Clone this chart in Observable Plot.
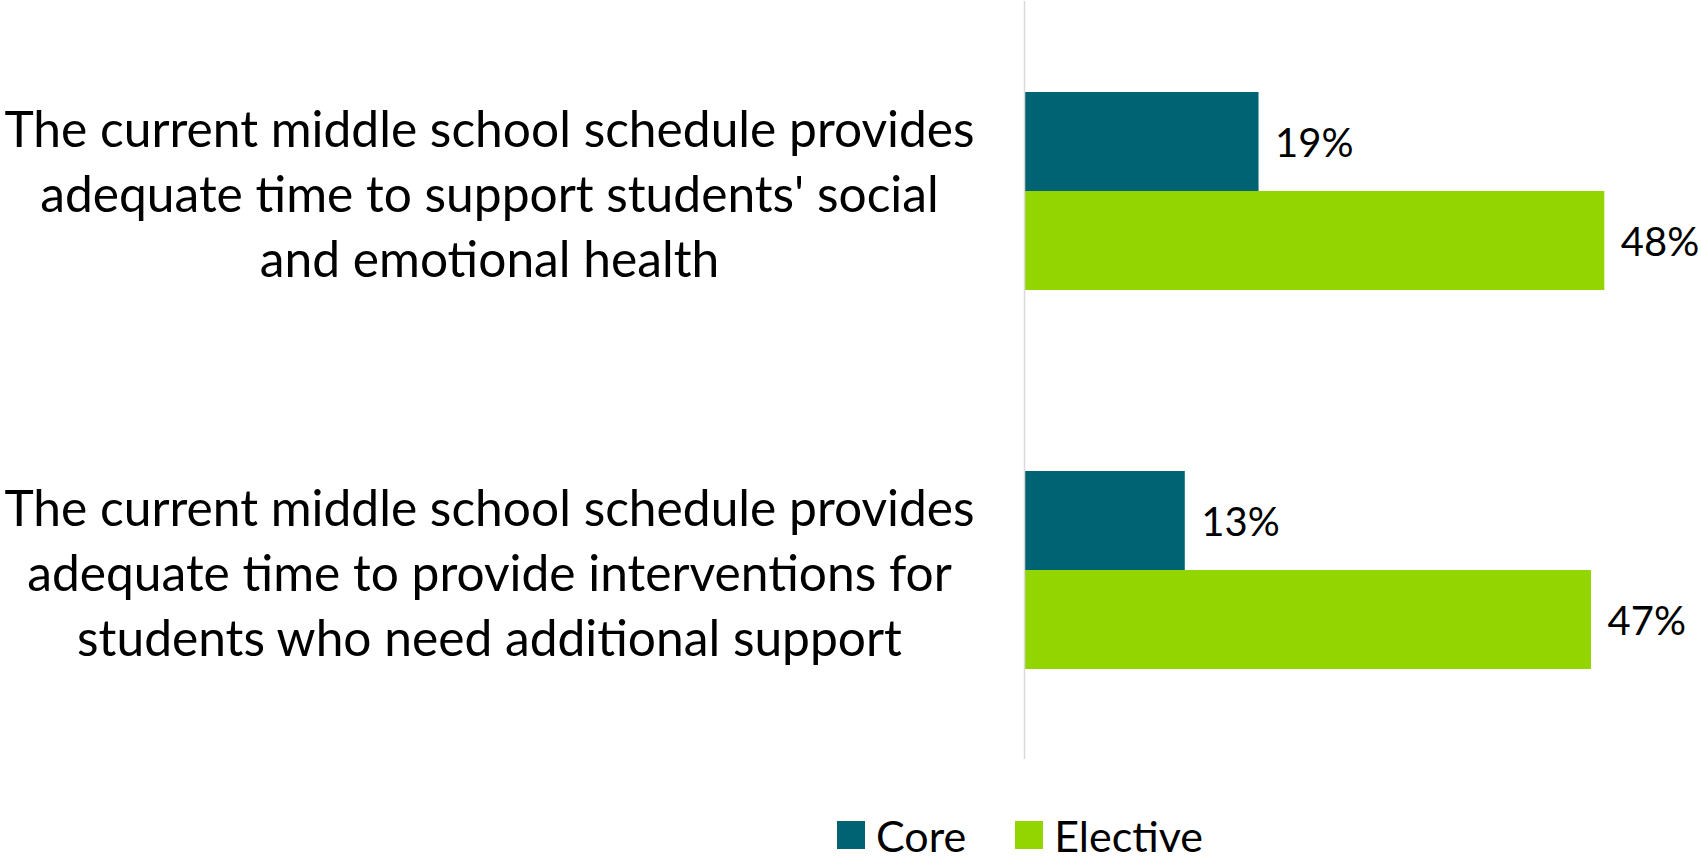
<!DOCTYPE html>
<html>
<head>
<meta charset="utf-8">
<script src="https://cdn.jsdelivr.net/npm/d3@7"></script>
<script src="https://cdn.jsdelivr.net/npm/@observablehq/plot@0.6"></script>
<style>
  html, body { margin: 0; padding: 0; background: #fff; overflow: hidden; }
  #chart svg { display: block; }
  .legend { height: 71px; display: flex; align-items: flex-start; padding-top: 31px; box-sizing: border-box; margin-left: 837px; font-family: Lato, sans-serif; font-size: 43px; color: #000; }
  .legend .item { display: flex; align-items: center; height: 28px; }
  .legend .sw { width: 28px; height: 28px; margin-right: 11px; flex: none; }
  .legend .lab { line-height: 1; }
  .legend .item + .item { margin-left: 49px; }
</style>
</head>
<body>
<div id="chart"></div>
<div class="legend" id="legend"></div>
<script>
const categories = [
  "The current middle school schedule provides adequate time to support students' social and emotional health",
  "The current middle school schedule provides adequate time to provide interventions for students who need additional support"
];
const categoryLines = [
  ["The current middle school schedule provides", "adequate time to support students' social", "and emotional health"],
  ["The current middle school schedule provides", "adequate time to provide interventions for", "students who need additional support"]
];
const series = ["Core", "Elective"];
const coreValues = [19.4, 13.3];
const electiveValues = [48.0, 46.9];
const colors = ["#006374", "#93D500"];

const data = categories.flatMap((c, i) => [
  {category: c, series: "Core", value: coreValues[i]},
  {category: c, series: "Elective", value: electiveValues[i]}
]);

const labelSize = 49.7;
const valueSize = 40;
const chart = Plot.plot({
  width: 1701,
  height: 790,
  marginLeft: 1024,
  marginRight: 0,
  marginTop: 0,
  marginBottom: 31,
  x: {domain: [0, 56], axis: null},
  y: {domain: series, axis: null, paddingInner: 0, paddingOuter: 0.907},
  fy: {domain: categories, axis: null, padding: 0},
  color: {domain: series, range: colors},
  style: {fontFamily: "Lato, sans-serif", background: "white", color: "#000"},
  marks: [
    Plot.barX(data, {x: "value", y: "series", fy: "category", fill: "series"}),
    Plot.ruleX([0], {stroke: "#d9d9d9", strokeWidth: 1.5}),
    Plot.text(data, {x: "value", y: "series", fy: "category", text: d => Math.round(d.value) + "%", dx: 16, dy: 2, textAnchor: "start", fontSize: valueSize, fill: "#000"}),
    Plot.text(categories, {fy: d => d, text: d => categoryLines[categories.indexOf(d)].join("\n"), frameAnchor: "left", dx: -535, textAnchor: "middle", lineAnchor: "middle", lineHeight: 65 / labelSize, fontSize: labelSize, fill: "#000"})
  ]
});
document.getElementById("chart").appendChild(chart);

const legend = document.getElementById("legend");
series.forEach((s, i) => {
  const item = document.createElement("div");
  item.className = "item";
  const sw = document.createElement("span");
  sw.className = "sw";
  sw.style.background = colors[i];
  const lab = document.createElement("span");
  lab.className = "lab";
  lab.textContent = s;
  item.appendChild(sw);
  item.appendChild(lab);
  legend.appendChild(item);
});
</script>
</body>
</html>
